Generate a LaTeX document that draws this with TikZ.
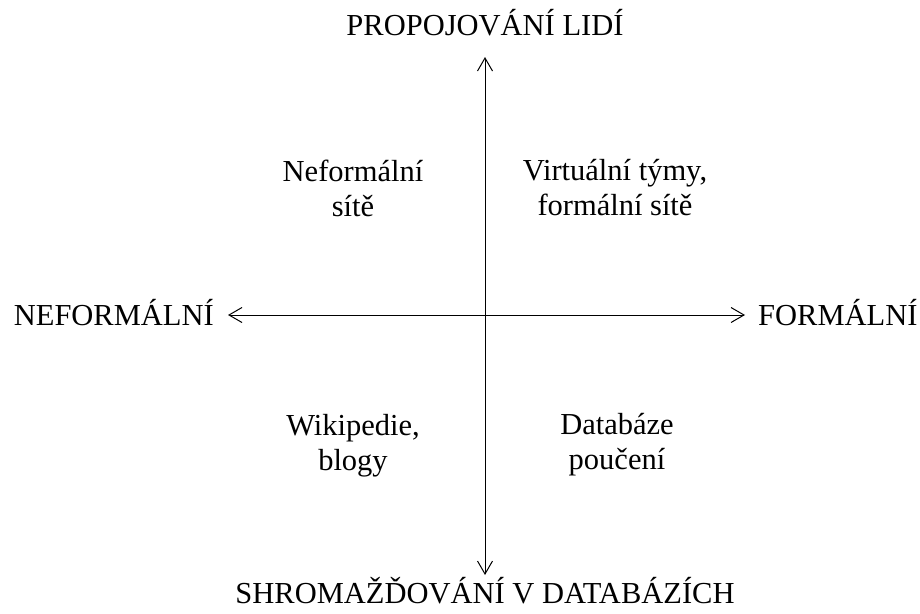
\documentclass[tikz,border=0pt]{standalone}
\usepackage{fontspec}
\setmainfont{Liberation Serif}
\usetikzlibrary{arrows.meta}
\usetikzlibrary{positioning}
\tikzset{
  Osa/.style={line width=1pt,<->}, % fuer die Achsen
  Popis/.style={font=\fontsize{30.5}{35}\selectfont, inner sep=0pt}, % Achsenbeschriftung
  Pole/.style={Popis, align=center} % Texte in den Quadranten
}

\begin{document}
\begin{tikzpicture}[x=1pt,y=1pt,
>={Straight Barb[length=13pt,width=15pt]} % Voreinstellung fuer Pfeilspitzen
]
\useasboundingbox (0,0) rectangle (920,-613);

%Mittelpunkt und Achsenenden
\coordinate (S) at (485,-315);
\coordinate (N) at (485,-57);
\coordinate (J) at (485,-575);
\coordinate (Z) at (228,-315);
\coordinate (V) at (745,-315);

%Achsenbeschriftung
\node[Popis, anchor=base] (lide) at (485,-35) {PROPOJOVÁNÍ LIDÍ};
\node[Popis, anchor=base] (databaze) at (485,-603) {SHROMAŽĎOVÁNÍ V DATABÁZÍCH};
\node[Popis, anchor=base east] (neformalni) at ([xshift=-14pt,yshift=-10pt]Z) {NEFORMÁLNÍ};
\node[Popis, anchor=base west] (formalni) at ([xshift=13pt,yshift=-10pt]V) {FORMÁLNÍ};

%Quadranten
\node[Pole] (site) at ([shift={(-132,127)}]S) {Neformální\\sítě};
\node[Pole] (tymy) at ([shift={(130,127)}]S) {Virtuální týmy,\\formální sítě};
\node[Pole] (wiki) at ([shift={(-132,-131)}]S) {Wikipedie,\\blogy};
\node[Pole] (pouceni) at ([shift={(132,-130)}]S) {Databáze\\poučení};

%Achsen
\draw[Osa] (Z) -- (V);
\draw[Osa] (J) -- (N);

\end{tikzpicture}
\end{document}
